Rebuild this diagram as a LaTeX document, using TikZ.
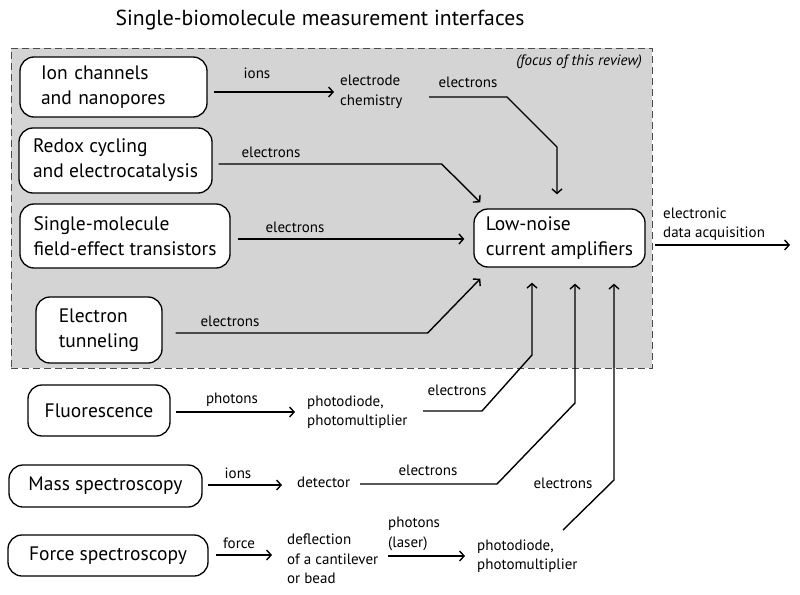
\documentclass[tikz,border=0pt]{standalone}
\usepackage{fontspec}
\setmainfont{PT Sans}
\usetikzlibrary{arrows.meta,calc}
\begin{document}
\begin{tikzpicture}[x=1pt,y=-1pt,
  box/.style={draw, line width=1.3pt, rounded corners=14pt, fill=white, align=left, inner sep=0pt, font=\fontsize{19.5}{25}\selectfont},
  lbl/.style={inner sep=0pt, font=\fontsize{15}{19.5}\selectfont, align=left},
  arr/.style={line width=1.4pt, -{Straight Barb[length=4.5pt,width=10pt,line width=1.4pt]}},
  focusbox/.style={draw=black!70, dash pattern=on 7pt off 4pt, line width=0.9pt, fill=black!17}]
\useasboundingbox (0,0) rectangle (800,594);
\node[font=\fontsize{21.7}{26}\selectfont] (title) at (320,20) {Single-biomolecule measurement interfaces};
\node[focusbox, minimum width=641pt, minimum height=320pt, inner sep=0pt] (focus) at (331.5,208) {};
\node[lbl, font=\itshape\fontsize{15}{18}\selectfont, anchor=east] (focustxt) at (642,62) {(focus of this review)};
% boxes
\node[box, minimum width=187pt, minimum height=60pt, text width=145pt, inner xsep=21pt] (ion) at (113.5,87) {Ion channels\\and nanopores};
\node[box, minimum width=193pt, minimum height=65pt] (redox) at (115.5,160.5) {Redox cycling\\and electrocatalysis};
\node[box, minimum width=210pt, minimum height=64pt] (fet) at (125,236) {Single-molecule\\field-effect transistors};
\node[box, minimum width=126pt, minimum height=66pt] (tun) at (99,330) {Electron\\tunneling};
\node[box, minimum width=171pt, minimum height=58pt] (amp) at (559.5,238) {Low-noise\\current amplifiers};
\node[box, minimum width=142pt, minimum height=51pt] (fl) at (99,410.5) {Fluorescence};
\node[box, minimum width=193pt, minimum height=42pt] (ms) at (105.5,486) {Mass spectroscopy};
\node[box, minimum width=200pt, minimum height=41pt] (fs) at (108,555.5) {Force spectroscopy};
% free texts
\node[lbl, anchor=west] (ec) at (340,92) {electrode\\chemistry};
\node[lbl, anchor=west] (pd1) at (307,412) {photodiode,\\photomultiplier};
\node[lbl, anchor=west] (det) at (297,482) {detector};
\node[lbl, anchor=west] (defl) at (287,559) {deflection\\of a cantilever\\or bead};
\node[lbl, anchor=west] (phl) at (388,534) {photons\\(laser)};
\node[lbl, anchor=west] (pd2) at (477,556) {photodiode,\\photomultiplier};
\node[lbl, anchor=west] (eda) at (663,224) {electronic\\data acquisition};
\coordinate (out) at (790,245);
% connectors
\draw[arr] ($(ion.east)+(6,5)$) -- ($(ec.west)+(-6,0)$);
\draw[arr] ($(ec.west)+(89,5)$) -- ++(78,0) -- ++(50,50) -- ($(amp.north)+(-2.5,-14)$);
\draw[arr] ($(redox.east)+(6,3.5)$) -- ++(223,0) -- ($(amp.north west)+(7,-6)$);
\draw[arr] ($(fet.east)+(7,3)$) -- ($(amp.west)+(-9,1)$);
\draw[arr] ($(tun.east)+(13,3)$) -- ++(252,0) -- ($(amp.south west)+(7,11)$);
\draw[arr] ($(amp.east)+(9,7)$) -- (out);
\draw[arr] ($(fl.east)+(5,1.5)$) -- ($(pd1.west)+(-12,0)$);
\draw[arr] ($(pd1.west)+(116,-1)$) -- ++(59,0) -- ++(50,-56) -- ($(amp.south)+(-27.5,15)$);
\draw[arr] ($(ms.east)+(5,-1)$) -- ($(det.west)+(-15,3)$);
\draw[arr] ($(det.west)+(63,2)$) -- ++(137,0) -- ++(78,-81) -- ($(amp.south)+(15.5,16)$);
\draw[arr] ($(fs.east)+(7,-0.5)$) -- ($(defl.west)+(-15,-4)$);
\draw[arr] ($(defl.west)+(101,-3)$) -- ($(pd2.west)+(-12,0)$);
\draw[arr] ($(pd2.west)+(86,-26)$) -- ++(51,-50) -- ($(amp.south)+(54.5,16)$);
% connector labels
\node[lbl] (l1) at (257,73) {ions};
\node[lbl] (l2) at (468,82) {electrons};
\node[lbl] (l3) at (271,152) {electrons};
\node[lbl] (l4) at (295,227) {electrons};
\node[lbl] (l5) at (230,321) {electrons};
\node[lbl] (l6) at (232,400) {photons};
\node[lbl] (l7) at (457,390) {electrons};
\node[lbl] (l8) at (238,473) {ions};
\node[lbl] (l9) at (428,470) {electrons};
\node[lbl] (l10) at (239,543) {force};
\node[lbl] (l11) at (563,483) {electrons};
\end{tikzpicture}
\end{document}
